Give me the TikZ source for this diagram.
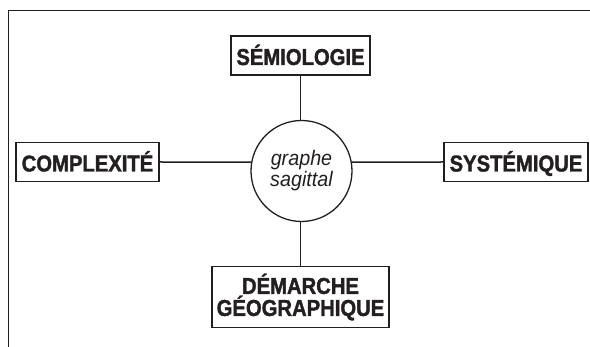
\documentclass[tikz,border=0pt]{standalone}
\usepackage{fontspec}
\setmainfont{Liberation Sans}
\newfontfamily\boxfont[UprightFont={* Bold},FakeStretch=0.88,FakeBold=1.5]{Liberation Sans}
\newfontfamily\hubfont[FakeStretch=0.94]{Liberation Sans}
\definecolor{ink}{RGB}{35,31,32}
\begin{document}
\begin{tikzpicture}[x=1pt,y=-1pt,
  box/.style={draw=ink,line width=1.4pt,text=ink,font=\boxfont\fontsize{23}{22}\selectfont,
     inner xsep=0pt,inner ysep=7pt,text height=22pt,text depth=3pt,minimum height=39pt},
  bigbox/.style={draw=ink,line width=1.4pt,text=ink,font=\boxfont\fontsize{23}{22}\selectfont,
     inner sep=0pt,align=center,minimum height=61pt},
  hub/.style={circle,draw=ink,line width=1.3pt,text=ink,minimum size=101pt,inner sep=0pt,
     align=center,font=\hubfont\itshape\fontsize{21}{21}\selectfont},
  link/.style={draw=ink,line width=1.5pt}]
\useasboundingbox (0,0) rectangle (590,347);
\draw[ink,line width=1pt] (8,347) -- (8,11) -- (590,11);
\node[hub] (c) at (301.5,171) {graphe\\sagittal};
\node[box,minimum width=139pt] (sem) at (300.5,55.5) {SÉMIOLOGIE};
\node[box,minimum width=143pt] (cx) at (87.5,162) {COMPLEXITÉ};
\node[box,minimum width=144pt] (sys) at (516,162) {SYSTÉMIQUE};
\node[bigbox,minimum width=177pt] (dem) at (300.5,297) {DÉMARCHE\\GÉOGRAPHIQUE};
\draw[link] (sem.south) -- (sem.south |- c.north);
\draw[link] (dem.north) -- (dem.north |- c.south);
\draw[link] (cx.east) -- (c.170);
\draw[link] (sys.west) -- (c.10);
\end{tikzpicture}
\end{document}
